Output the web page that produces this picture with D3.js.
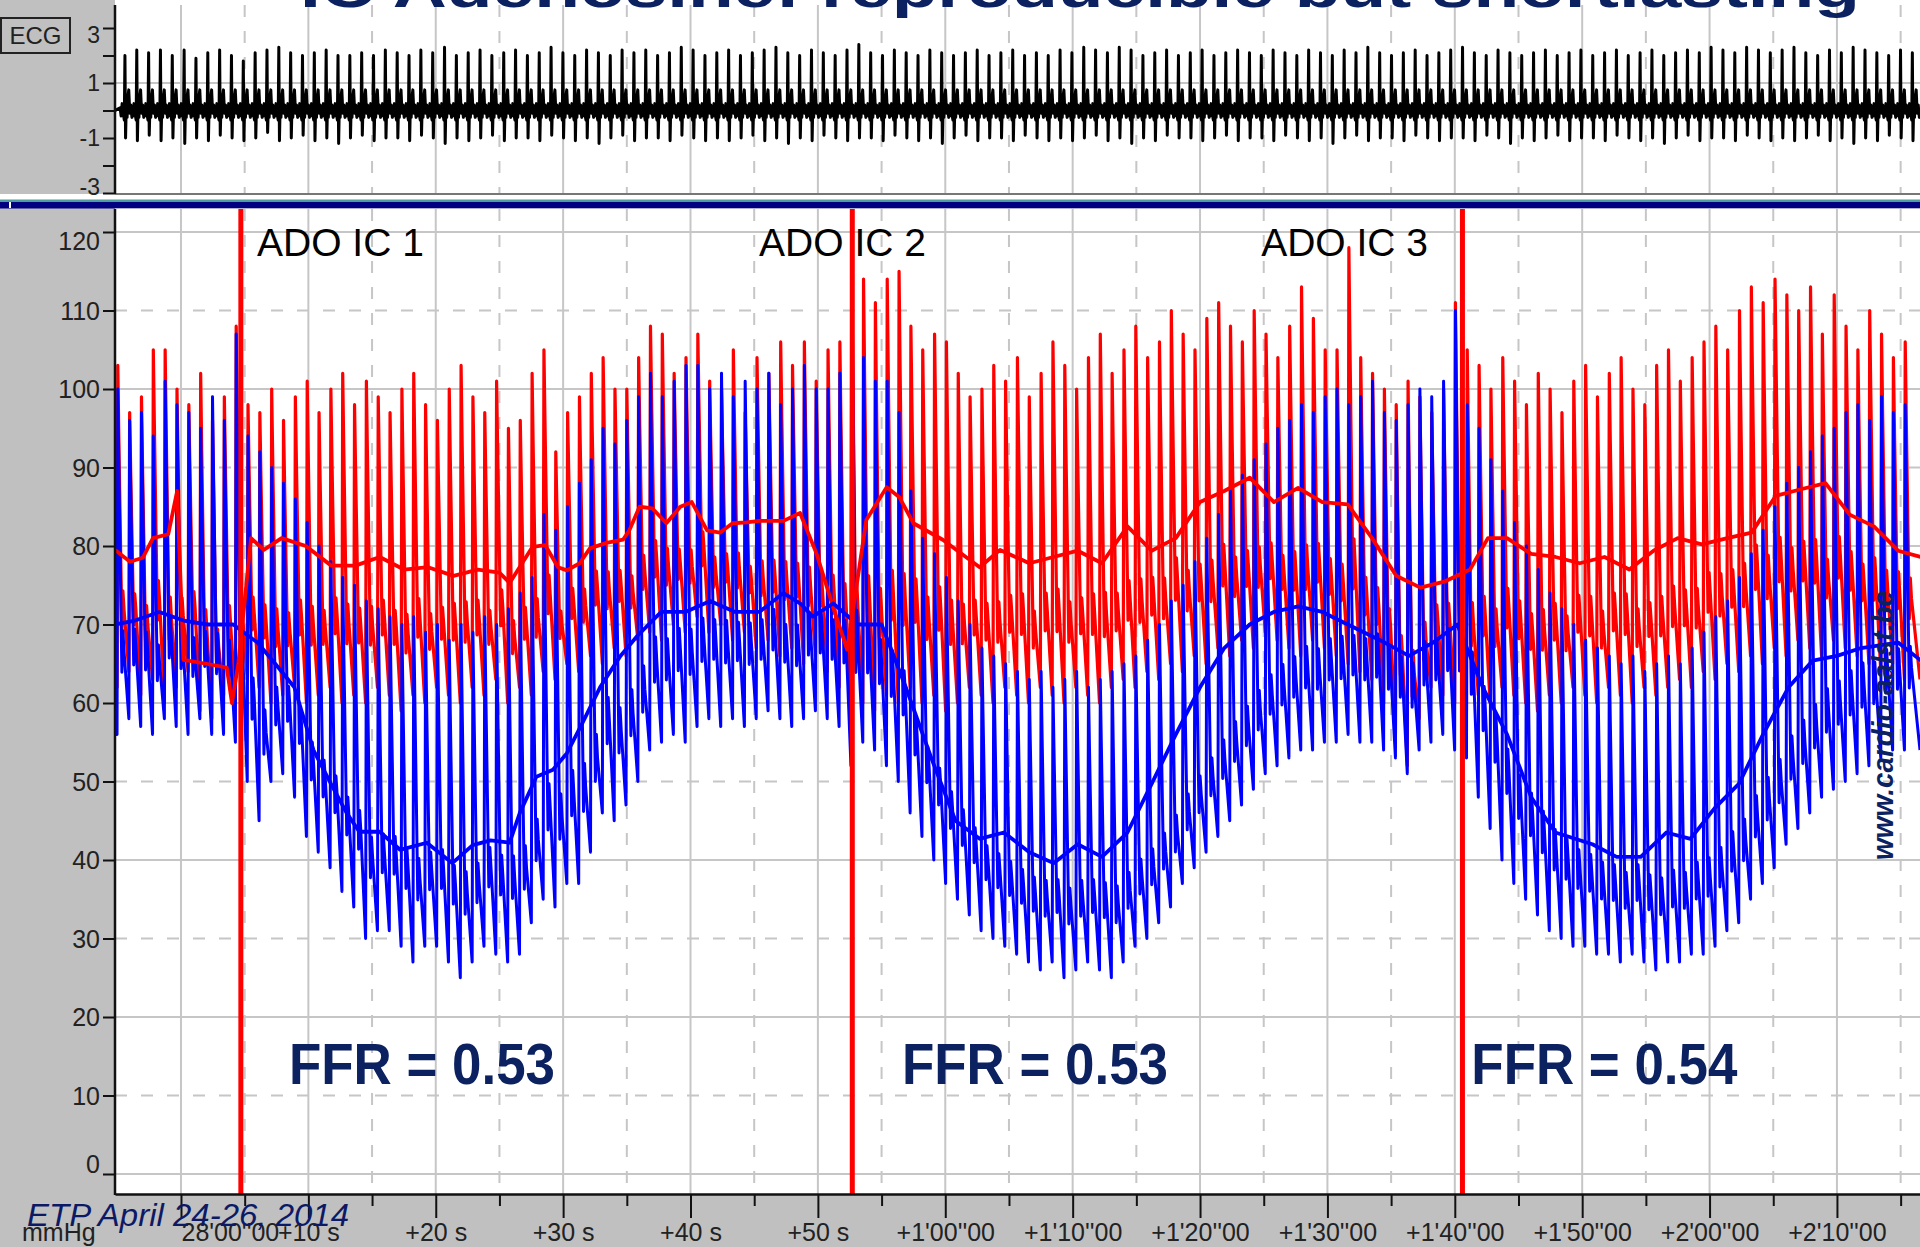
<!DOCTYPE html>
<html><head><meta charset="utf-8">
<script src="https://cdn.jsdelivr.net/npm/d3@7"></script>
<style>html,body{margin:0;padding:0;background:#c0c0c0;overflow:hidden}svg{display:block}</style>
</head><body>
<svg id="c" width="1920" height="1247"></svg>
<script>
// ---------------- DATA ----------------
const titleText = "IC Adenosine: reproducible but shortlasting";
const xTickValues = [0,10,20,30,40,50,60,70,80,90,100,110,120,130];
const xTickLabels = ["28'00''00","+10 s","+20 s","+30 s","+40 s","+50 s","+1'00''00","+1'10''00","+1'20''00","+1'30''00","+1'40''00","+1'50''00","+2'00''00","+2'10''00"];
const xMinorValues = [5,15,25,35,45,55,65,75,85,95,105,115,125,135];
const yTickValues = [0,10,20,30,40,50,60,70,80,90,100,110,120];
const ecgTickValues = [3,2,1,0,-1,-2,-3];
const ecgTickLabels = ["3","","1","","-1","","-3"];
const adoTimes = [4.7, 52.7, 100.6];
const adoLabels = ["ADO IC 1","ADO IC 2","ADO IC 3"];
const ffrLabels = ["FFR = 0.53","FFR = 0.53","FFR = 0.54"];

// per-beat distal pressure (Pd, blue) diastolic / systolic, mmHg
const pdDia = [56,58,57,56,58,57,56,58,56,56,
 55,50,45,50,51,48,43,41,39,36,
 34,30,31,31,29,27,29,29,27,25,
 27,29,28,27,28,32,35,34,37,37,
 41,46,45,47,50,54,55,56,55,57,
 58,57,58,57,58,59,58,57,58,59,
 58,57,52,55,54,52,50,46,43,40,
 37,35,33,31,30,29,28,27,26,27,
 25,26,27,26,25,27,29,30,32,34,
 37,39,41,43,45,47,49,51,52,53,
 54,54,55,55,56,55,55,54,53,51,
 54,55,56,54,53,48,44,40,37,35,
 33,31,30,29,29,28,28,27,28,27,
 26,27,27,28,28,29,31,32,35,37,
 39,42,44,46,48,49,50,51,52,53,
 54,54];
const pdSys = [100,96,97,94,101,98,97,95,99,96,
 107,94,92,90,88,86,83,80,78,76,
 75,73,72,71,70,71,69,70,68,70,
 69,71,70,72,74,76,84,82,85,88,
 91,95,93,96,99,102,99,101,103,103,
 100,102,99,101,100,102,98,100,103,100,
 100,102,118,104,101,101,97,87,81,79,
 76,73,70,67,66,65,64,63,64,62,
 63,64,62,63,64,65,66,68,70,73,
 75,78,81,84,87,89,91,93,95,96,
 98,97,99,100,98,99,101,97,96,98,
 100,99,101,110,98,95,91,87,83,80,
 77,74,72,70,68,67,66,65,66,64,
 65,66,65,67,69,71,73,76,79,82,
 85,88,90,92,94,95,97,98,96,99,
 97,98];
// per-beat aortic pressure (Pa, red) systolic / diastolic, mmHg
const paSys = [103,97,99,105,105,100,98,102,96,99,
 108,98,97,100,96,99,101,97,100,102,
 98,101,99,97,100,102,98,96,100,103,
 99,97,101,95,96,102,105,92,97,99,
 102,104,100,100,104,108,107,102,104,107,
 101,100,105,97,104,102,106,103,106,101,
 105,106,116,114,111,114,115,108,105,107,
 106,102,99,100,103,101,104,99,102,106,
 103,100,104,107,102,105,108,104,106,110,
 107,105,109,111,108,106,110,107,104,108,
 113,109,105,105,118,104,102,100,98,101,
 99,97,100,111,105,103,100,104,101,98,
 102,100,97,101,103,99,102,104,100,98,
 103,105,101,104,106,108,105,110,113,111,
 114,112,110,113,107,112,108,105,110,107,
 104,106];
const paDia = [62,64,61,63,60,62,64,59,58,61,
 60,63,62,60,61,62,60,61,62,60,
 61,60,62,61,59,61,60,62,61,60,
 62,61,63,60,62,61,64,63,65,64,
 66,65,67,66,68,69,68,70,69,71,
 69,70,68,69,67,68,66,67,65,66,
 64,62,58,60,59,61,60,62,60,61,
 59,60,62,61,60,62,61,60,62,61,
 60,62,61,60,62,63,62,64,63,65,
 64,66,65,67,66,68,67,69,68,67,
 66,68,67,66,65,64,63,60,56,52,
 58,62,61,60,59,61,60,62,61,60,
 59,61,60,62,61,60,62,61,60,62,
 61,62,63,62,64,63,65,64,66,65,
 67,66,68,67,66,68,67,66,65,64,
 65,63];
// mean pressures [seconds, mmHg]
const paMean = [[-5.18,79.5],[-4,78],[-3,78.5],[-2.2,81],[-1,81.5],[-0.3,87],[0.2,65.5],[2,65],[3.6,64.5],[4.0,60],[4.5,65],[5.5,81],[6.5,79.5],[7.9,81],[9.8,80],[11.8,77.5],[13.7,77.5],[15.6,78.6],[17.5,77],[19.4,77.3],[21.4,76.2],[23.3,77],[25,76.6],[25.8,75.3],[27.6,79.9],[28.6,80.1],[29.6,77.3],[30.3,76.9],[31.3,77.8],[32.1,79.7],[33.4,80.4],[34.7,80.8],[35.2,82],[36,85],[37,84.8],[38.1,82.9],[39.2,85],[40.1,85.6],[41.3,82],[42.3,81.7],[43.3,82.9],[44.4,83],[45.4,83.2],[47.3,83.2],[48.6,84.2],[49.9,79],[51.2,72.2],[52.3,66.8],[53.8,83.3],[55.4,87.5],[56.4,86.2],[57.5,82.9],[59.8,80.8],[62.7,77.3],[64.3,79.5],[66.6,77.8],[68.5,78.6],[70.4,79.4],[72.3,77.8],[74.3,82.5],[76.2,79.4],[78.1,81],[80,85.6],[81.9,87],[83.9,88.7],[85.8,85.6],[87.7,87.4],[89.6,85.6],[91.6,85.3],[93.5,81],[95.4,76.2],[97.3,74.7],[99.25,75.5],[101.2,77],[102.6,81],[104.1,81],[106,79],[107.9,78.6],[109.8,77.8],[111.75,78.6],[113.7,77],[115.6,79.4],[117.5,81],[119.4,80.2],[121.4,81],[123.3,81.7],[125.2,86.4],[127.1,87.2],[129.1,88],[131,84],[132.9,82.5],[134.8,79.4],[136.6,78.6]];
const pdMean = [[-5.18,70],[-3.6,70.5],[-1.7,71.6],[0.2,70.5],[2.1,70],[4.1,70],[6,67.7],[7.4,65],[8.9,62],[10.4,54],[11.9,49.3],[13,46],[14,43.6],[15.6,43.6],[17.2,41.3],[19.3,42.2],[21.3,39.6],[22.9,41.9],[24.3,42.5],[25.8,42.2],[26.6,46],[27.9,50.6],[29.2,51.5],[30.3,53.6],[31.5,57.4],[32.9,62],[34.5,66],[35.8,68.5],[37.7,71.6],[39.6,71.6],[41.55,73],[43.5,71.6],[45.4,71.6],[47.3,74],[48.6,72.7],[49.6,71],[51.2,72.7],[53.1,70],[55,70],[56.9,62],[58.9,53],[60.8,45],[62.7,42.7],[64.6,43.5],[66.6,41],[68.5,39.6],[70.4,42],[72.3,40.4],[74.3,43.5],[76.2,49.7],[78.1,56],[80,62],[81.9,67],[83.9,70],[85.8,71.6],[87.7,72.3],[89.6,71.6],[91.6,70],[94.5,67.7],[96.4,66],[98.3,67.7],[100.2,70],[102.2,62],[104.1,56],[106,48],[107.9,43.5],[110.8,42],[112.7,40.4],[114.6,40.4],[116.6,43.5],[118.5,42.7],[120.4,46.6],[122.3,49.7],[124.2,56],[126.2,62],[128.1,65.4],[130,66],[131.9,67],[134.8,67.7],[136.6,65.4]];
// ECG per-beat R and S amplitudes
const ecgR = [2.0,2.2,2.1,2.2,2.0,2.2,1.9,2.1,2.2,2.0,
 1.8,2.1,2.2,2.3,2.1,2.0,2.1,2.2,2.0,2.0,
 2.1,2.0,2.2,2.1,2.0,2.2,2.1,2.3,2.0,2.1,
 2.2,2.0,2.1,2.2,2.0,2.1,2.3,2.1,2.0,2.2,
 2.1,2.0,2.2,2.1,2.2,2.0,2.1,2.3,2.2,2.0,
 2.1,2.2,2.0,2.1,2.2,2.3,2.1,2.0,2.2,2.1,
 2.0,2.2,2.4,2.1,2.0,2.2,2.1,2.0,2.2,2.1,
 2.0,2.1,2.2,2.0,2.1,2.2,2.0,2.1,2.0,2.2,
 2.1,2.3,2.2,2.1,2.3,2.2,2.0,2.1,2.2,2.0,
 2.1,2.2,2.0,2.1,2.2,2.1,2.0,2.2,2.1,2.0,
 2.2,2.1,2.0,2.2,2.1,2.3,2.1,2.0,2.1,2.2,
 2.0,2.1,2.2,2.3,2.1,2.0,2.2,2.1,2.0,2.1,
 2.2,2.0,2.1,2.2,2.0,2.1,2.2,2.0,2.1,2.2,
 2.0,2.1,2.2,2.1,2.3,2.2,2.1,2.3,2.2,2.1,
 2.2,2.3,2.1,2.0,2.2,2.1,2.3,2.2,2.1,2.0,
 2.2,2.1];
const ecgS = [-1.0,-1.1,-0.9,-1.1,-1.0,-1.2,-1.0,-1.1,-0.9,-1.0,
 -1.1,-1.0,-0.8,-1.1,-1.0,-0.9,-1.1,-1.0,-1.2,-1.0,
 -0.9,-1.1,-1.0,-1.0,-1.1,-0.9,-1.0,-1.2,-1.0,-1.1,
 -1.0,-0.9,-1.1,-1.0,-1.0,-1.1,-0.9,-1.0,-1.1,-1.0,
 -1.2,-1.0,-0.9,-1.1,-1.0,-1.0,-1.1,-0.9,-1.0,-1.1,
 -1.0,-1.1,-1.0,-0.9,-1.1,-1.0,-1.2,-1.0,-1.1,-0.9,
 -1.0,-1.1,-1.0,-1.0,-1.1,-0.9,-1.0,-1.1,-1.0,-1.2,
 -1.0,-0.9,-1.1,-1.0,-1.0,-1.1,-0.9,-1.0,-1.1,-1.0,
 -1.1,-1.0,-0.9,-1.1,-1.0,-1.2,-1.0,-1.1,-0.9,-1.0,
 -1.0,-1.1,-1.0,-0.9,-1.1,-1.0,-1.0,-1.1,-0.9,-1.0,
 -1.1,-1.0,-1.2,-1.0,-0.9,-1.1,-1.0,-1.0,-1.1,-0.9,
 -1.0,-1.1,-1.0,-1.0,-1.1,-0.9,-1.0,-1.2,-1.0,-1.1,
 -1.0,-0.9,-1.1,-1.0,-1.0,-1.1,-0.9,-1.0,-1.1,-1.0,
 -1.2,-1.0,-0.9,-1.1,-1.0,-1.0,-1.1,-0.9,-1.0,-1.1,
 -1.0,-1.1,-1.0,-0.9,-1.1,-1.0,-1.2,-1.0,-1.1,-0.9,
 -1.0,-1.1];
const ecgTWave = 0.75;

// ---------------- LAYOUT ----------------
const W = 1920, H = 1247;
const FONT = "'Liberation Sans', Arial, sans-serif";
const NAVY = "#0b2160";
const GRID = "#c6c6c6";
const svg = d3.select("#c");

const x = d3.scaleLinear().domain([-5.18, 136.52]).range([115, 1920]);
const y = d3.scaleLinear().domain([0, 120]).range([1174, 232]);
const yE = d3.scaleLinear().domain([-3, 3]).range([193, 28]);
const beatTime = d3.scaleLinear().domain([0, pdSys.length - 1]).range([-5.02, 135.3]);

const defs = svg.append("defs");
defs.append("clipPath").attr("id", "clipMain").append("rect")
  .attr("x", 116).attr("y", 209).attr("width", 1804).attr("height", 985);
defs.append("clipPath").attr("id", "clipEcg").append("rect")
  .attr("x", 116).attr("y", 5).attr("width", 1804).attr("height", 188);

// backgrounds
svg.append("rect").attr("width", W).attr("height", H).attr("fill", "#c0c0c0");
svg.append("rect").attr("x", 115).attr("y", 0).attr("width", W - 115).attr("height", 194).attr("fill", "#fff");
svg.append("rect").attr("x", 0).attr("y", 194).attr("width", W).attr("height", 6).attr("fill", "#fff");
svg.append("rect").attr("x", 0).attr("y", 199.5).attr("width", W).attr("height", 2.5).attr("fill", "#4e9e9e");
svg.append("rect").attr("x", 0).attr("y", 202).attr("width", W).attr("height", 6.5).attr("fill", "#000080");
svg.append("rect").attr("x", 9).attr("y", 202).attr("width", 2).attr("height", 6).attr("fill", "#fff");
svg.append("rect").attr("x", 115).attr("y", 208.5).attr("width", W - 115).attr("height", 985.5).attr("fill", "#fff");

// ---------------- GRIDS ----------------
const gE = svg.append("g");
gE.selectAll("line.vmaj").data(xTickValues).join("line")
  .attr("x1", d => x(d)).attr("x2", d => x(d)).attr("y1", 5).attr("y2", 193)
  .attr("stroke", GRID).attr("stroke-width", 2);
gE.selectAll("line.vmin").data(xMinorValues.filter(d => x(d) < 1919)).join("line")
  .attr("x1", d => x(d)).attr("x2", d => x(d)).attr("y1", 5).attr("y2", 193)
  .attr("stroke", GRID).attr("stroke-width", 2).attr("stroke-dasharray", "12,14");
gE.append("line").attr("x1", 115).attr("x2", W).attr("y1", yE(1)).attr("y2", yE(1))
  .attr("stroke", GRID).attr("stroke-width", 2);
gE.append("line").attr("x1", 115).attr("x2", W).attr("y1", 194).attr("y2", 194)
  .attr("stroke", "#777").attr("stroke-width", 2);

const gM = svg.append("g");
gM.selectAll("line.h").data(yTickValues).join("line")
  .attr("x1", 115).attr("x2", W).attr("y1", d => y(d)).attr("y2", d => y(d))
  .attr("stroke", GRID).attr("stroke-width", 2)
  .attr("stroke-dasharray", d => d % 20 === 0 ? null : "12,14");
gM.selectAll("line.vmaj").data(xTickValues).join("line")
  .attr("x1", d => x(d)).attr("x2", d => x(d)).attr("y1", 209).attr("y2", 1194)
  .attr("stroke", GRID).attr("stroke-width", 2);
gM.selectAll("line.vmin").data(xMinorValues.filter(d => x(d) < 1919)).join("line")
  .attr("x1", d => x(d)).attr("x2", d => x(d)).attr("y1", 209).attr("y2", 1194)
  .attr("stroke", GRID).attr("stroke-width", 2).attr("stroke-dasharray", "12,14");

// ---------------- ECG TRACE ----------------
const ecgPts = [[x.domain()[0], 0]];
ecgR.forEach((r, i) => {
  const te = beatTime(i) + 0.62;
  ecgPts.push([te - 0.38, 0.1], [te - 0.3, -0.2], [te - 0.22, 0.25], [te - 0.14, -0.1], [te - 0.05, -0.35],
    [te, r], [te + 0.05, ecgS[i]], [te + 0.1, 0.1], [te + 0.17, -0.25], [te + 0.22, 0.45],
    [te + 0.3, ecgTWave], [te + 0.38, -0.1], [te + 0.46, 0.2], [te + 0.55, -0.25]);
});
ecgPts.push([x.domain()[1], 0]);
svg.append("path").attr("clip-path", "url(#clipEcg)")
  .attr("d", d3.line().x(d => x(d[0])).y(d => yE(d[1]))(ecgPts))
  .attr("fill", "none").attr("stroke", "#000").attr("stroke-width", 3).attr("stroke-linejoin", "round");

// ---------------- PRESSURE TRACES ----------------
function pulsePoints(sys, dia) {
  const pts = [[x.domain()[0], dia[0]]];
  sys.forEach((s, i) => {
    const t = beatTime(i), d = dia[i], pp = s - d;
    pts.push([t, d], [t + 0.06, s], [t + 0.14, d + 0.78 * pp], [t + 0.38, d + 0.18 * pp],
      [t + 0.46, d + 0.3 * pp], [t + 0.55, d + 0.24 * pp]);
  });
  pts.push([x.domain()[1], dia[dia.length - 1]]);
  return pts;
}
const lineMM = d3.line().x(d => x(d[0])).y(d => y(d[1]));
const gP = svg.append("g").attr("clip-path", "url(#clipMain)");
gP.append("path").attr("d", lineMM(pulsePoints(paSys, paDia)))
  .attr("fill", "none").attr("stroke", "#ff0000").attr("stroke-width", 3.2).attr("stroke-linejoin", "round");
gP.append("path").attr("d", lineMM(pulsePoints(pdSys, pdDia)))
  .attr("fill", "none").attr("stroke", "#0000ff").attr("stroke-width", 3).attr("stroke-linejoin", "round");
gP.append("path").attr("d", lineMM(paMean))
  .attr("fill", "none").attr("stroke", "#ff0000").attr("stroke-width", 3.8).attr("stroke-linejoin", "round");
gP.append("path").attr("d", lineMM(pdMean))
  .attr("fill", "none").attr("stroke", "#0000ff").attr("stroke-width", 3.8).attr("stroke-linejoin", "round");

// ADO injection markers
gP.selectAll("line.ado").data(adoTimes).join("line")
  .attr("x1", d => x(d)).attr("x2", d => x(d)).attr("y1", 209).attr("y2", 1194)
  .attr("stroke", "#ff0000").attr("stroke-width", 5);

// ---------------- AXES ----------------
const axE = svg.append("g").attr("transform", "translate(115,0)")
  .call(d3.axisLeft(yE).tickValues(ecgTickValues).tickSize(12).tickPadding(3)
    .tickFormat((d, i) => ecgTickLabels[i]));
axE.select(".domain").remove();
axE.selectAll("line").attr("stroke", "#111").attr("stroke-width", 2);
axE.selectAll("text").attr("font-family", FONT).attr("font-size", 23).attr("fill", "#222")
  .attr("dy", d => d === 3 ? "0.65em" : d === -3 ? "0.05em" : "0.32em");
svg.append("line").attr("x1", 115).attr("x2", 115).attr("y1", 5).attr("y2", 194)
  .attr("stroke", "#111").attr("stroke-width", 2.5);

const axY = svg.append("g").attr("transform", "translate(115,0)")
  .call(d3.axisLeft(y).tickValues(yTickValues).tickSize(12).tickPadding(3));
axY.select(".domain").remove();
axY.selectAll("line").attr("stroke", "#111").attr("stroke-width", 2);
axY.selectAll("text").attr("font-family", FONT).attr("font-size", 25).attr("fill", "#222")
  .attr("dy", d => d === 120 ? "0.7em" : d === 0 ? "-0.05em" : "0.34em");
svg.append("line").attr("x1", 115).attr("x2", 115).attr("y1", 209).attr("y2", 1195)
  .attr("stroke", "#111").attr("stroke-width", 2.5);

const axX = svg.append("g").attr("transform", "translate(0,1194)")
  .call(d3.axisBottom(x).tickValues(xTickValues).tickSize(24).tickSizeOuter(0).tickPadding(5)
    .tickFormat((d, i) => xTickLabels[i]));
axX.select(".domain").attr("stroke", "#111").attr("stroke-width", 2.5);
axX.selectAll("line").attr("stroke", "#111").attr("stroke-width", 2);
axX.selectAll("text").attr("font-family", FONT).attr("font-size", 25).attr("fill", "#222")
  .attr("text-anchor", (d, i) => i === 0 ? "start" : "middle");
const axXm = svg.append("g").attr("transform", "translate(0,1194)")
  .call(d3.axisBottom(x).tickValues(xMinorValues.filter(d => x(d) < 1919)).tickSize(12).tickSizeOuter(0).tickFormat(""));
axXm.select(".domain").remove();
axXm.selectAll("line").attr("stroke", "#111").attr("stroke-width", 2);

// ---------------- TEXTS ----------------
svg.append("text").attr("x", 300).attr("y", 7)
  .attr("font-family", FONT).attr("font-weight", "bold").attr("font-size", 54)
  .attr("fill", NAVY).attr("textLength", 1560).attr("lengthAdjust", "spacingAndGlyphs")
  .text(titleText);

svg.append("rect").attr("x", 1).attr("y", 18).attr("width", 69).attr("height", 35)
  .attr("fill", "none").attr("stroke", "#222").attr("stroke-width", 2);
svg.append("text").attr("x", 35.5).attr("y", 44).attr("text-anchor", "middle")
  .attr("font-family", FONT).attr("font-size", 24).attr("fill", "#222").text("ECG");

const adoLabelStart = [5.97, 45.38, 84.8];
svg.selectAll("text.ado").data(adoLabels).join("text")
  .attr("x", (d, i) => x(adoLabelStart[i])).attr("y", 256)
  .attr("font-family", FONT).attr("font-size", 39).attr("fill", "#000").text(d => d);

const ffrStart = [8.48, 56.6, 101.3];
svg.selectAll("text.ffr").data(ffrLabels).join("text")
  .attr("x", (d, i) => x(ffrStart[i])).attr("y", 1084)
  .attr("font-family", FONT).attr("font-weight", "bold").attr("font-size", 58)
  .attr("fill", NAVY).attr("textLength", 266).attr("lengthAdjust", "spacingAndGlyphs")
  .text(d => d);

svg.append("text").attr("transform", "translate(1893,860) rotate(-90)")
  .attr("font-family", FONT).attr("font-weight", "bold").attr("font-style", "italic")
  .attr("font-size", 30).attr("fill", NAVY).attr("textLength", 269).attr("lengthAdjust", "spacingAndGlyphs")
  .text("www.cardio-aalst.be");

svg.append("text").attr("x", 22).attr("y", 1241)
  .attr("font-family", FONT).attr("font-size", 25).attr("fill", "#222").text("mmHg");
svg.append("text").attr("x", 27).attr("y", 1226)
  .attr("font-family", FONT).attr("font-style", "italic").attr("font-size", 32)
  .attr("fill", "#0c1a66").attr("textLength", 322).attr("lengthAdjust", "spacingAndGlyphs")
  .text("ETP April 24-26, 2014");
</script>
</body></html>
